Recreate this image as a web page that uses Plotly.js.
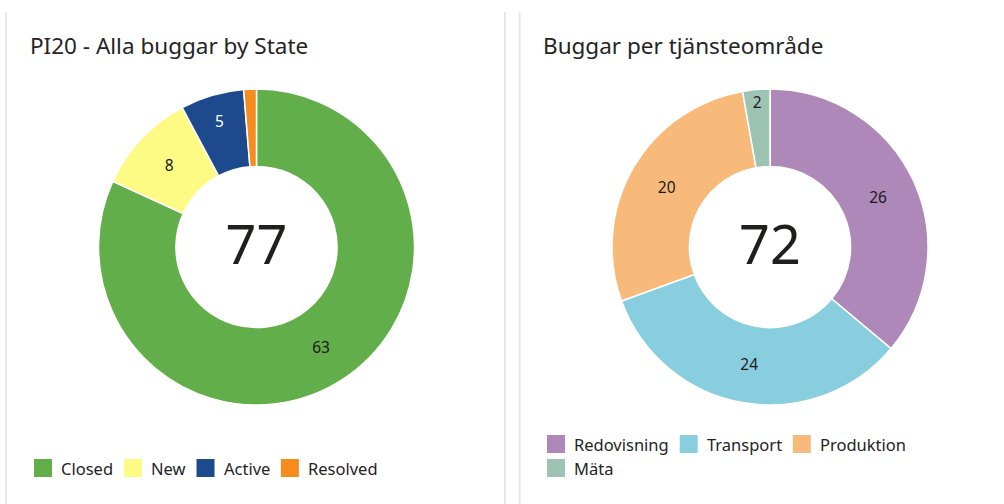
<!DOCTYPE html>
<html>
<head>
<meta charset="utf-8">
<script src="https://cdn.plot.ly/plotly-3.0.1.min.js"></script>
<style>
html,body{margin:0;padding:0;background:#ffffff;}
#chart{width:1004px;height:504px;}
</style>
</head>
<body>
<div id="chart"></div>
<script>
// ---- data ----
const stateTitle = 'PI20 - Alla buggar by State';
const stateLabels = ['Closed', 'New', 'Active', 'Resolved'];
const stateValues = [63, 8, 5, 1];
const stateColors = ['#62AE4A', '#FDFB84', '#1D4A8C', '#F68B1F'];

const areaTitle = 'Buggar per tjänsteområde';
const areaLabels = ['Redovisning', 'Transport', 'Produktion', 'Mäta'];
const areaValues = [26, 24, 20, 2];
const areaColors = ['#AE88B9', '#89CEDE', '#F8BA7B', '#9DC4B2'];

// ---- layout helpers ----
const W = 1004, H = 504;
const FONT = '"Noto Sans", "Open Sans", sans-serif';
const TEXT_COLOR = '#252423';
const px = x => x / W;
const py = y => 1 - y / H;

function textColorFor(hex) {
  const r = parseInt(hex.slice(1, 3), 16) / 255;
  const g = parseInt(hex.slice(3, 5), 16) / 255;
  const b = parseInt(hex.slice(5, 7), 16) / 255;
  const lum = 0.2126 * r + 0.7152 * g + 0.0722 * b;
  return lum < 0.35 ? '#ffffff' : '#1a1a1a';
}

function pieTrace(labels, values, colors, cx, cy, r) {
  const total = values.reduce((a, b) => a + b, 0);
  return {
    type: 'pie',
    labels: labels,
    values: values,
    sort: false,
    direction: 'clockwise',
    rotation: 0,
    hole: 0.51,
    marker: { colors: colors, line: { color: '#ffffff', width: 1.5 } },
    texttemplate: values.map(v => (v / total >= 0.02 ? '%{value}' : '')),
    textposition: 'inside',
    insidetextorientation: 'horizontal',
    insidetextfont: { family: FONT, size: 15.5, color: colors.map(textColorFor) },
    hoverinfo: 'label+value+percent',
    showlegend: false,
    title: { text: String(total), position: 'middle center',
             font: { family: FONT, size: 54, color: '#201f1e' } },
    domain: { x: [px(cx - r), px(cx + r)], y: [py(cy + r), py(cy - r)] }
  };
}

const shapes = [];
const annotations = [];

// card edges
[[5, 7], [504, 506], [518.5, 520.5]].forEach(([a, b]) => {
  shapes.push({ type: 'rect', xref: 'paper', yref: 'paper', layer: 'below',
    x0: px(a), x1: px(b), y0: py(H), y1: py(12),
    fillcolor: '#e8e8e8', line: { width: 0 } });
});

// titles
function addTitle(text, x, y) {
  annotations.push({ xref: 'paper', yref: 'paper', x: px(x), y: py(y),
    xanchor: 'left', yanchor: 'middle', showarrow: false, borderpad: 0,
    text: text, font: { family: FONT, size: 22.5, color: TEXT_COLOR } });
}
addTitle(stateTitle, 29, 45);
addTitle(areaTitle, 542, 45);

// legends (flow layout with wrapping)
const canvas = document.createElement('canvas');
const ctx = canvas.getContext('2d');
const LEG_SIZE = 16.5, SQ = 18, GAP_TEXT = 8, GAP_ITEM = 12, ROW = 24;
function measure(text) {
  ctx.font = LEG_SIZE + 'px "Noto Sans"';
  return ctx.measureText(text).width;
}
function addLegend(labels, colors, x0, y0, maxX) {
  let x = x0, y = y0;
  labels.forEach((lab, i) => {
    const itemW = SQ + GAP_TEXT + measure(lab);
    if (x > x0 && x + itemW > maxX) { x = x0; y += ROW; }
    shapes.push({ type: 'rect', xref: 'paper', yref: 'paper',
      x0: px(x), x1: px(x + SQ), y0: py(y + SQ / 2), y1: py(y - SQ / 2),
      fillcolor: colors[i], line: { width: 0 } });
    annotations.push({ xref: 'paper', yref: 'paper', x: px(x + SQ + GAP_TEXT), y: py(y),
      xanchor: 'left', yanchor: 'middle', showarrow: false, borderpad: 0,
      text: lab, font: { family: FONT, size: LEG_SIZE, color: TEXT_COLOR } });
    x += itemW + GAP_ITEM;
  });
}
addLegend(stateLabels, stateColors, 34, 468, 490);
addLegend(areaLabels, areaColors, 547, 444, 960);

const data = [
  pieTrace(stateLabels, stateValues, stateColors, 256.5, 247, 158),
  pieTrace(areaLabels, areaValues, areaColors, 770, 247, 158)
];

const layout = {
  width: W, height: H,
  margin: { l: 0, r: 0, t: 0, b: 0 },
  paper_bgcolor: '#ffffff',
  plot_bgcolor: '#ffffff',
  showlegend: false,
  font: { family: FONT, color: TEXT_COLOR },
  shapes: shapes,
  annotations: annotations
};

Plotly.newPlot('chart', data, layout, { displayModeBar: false, staticPlot: false });
</script>
</body>
</html>
